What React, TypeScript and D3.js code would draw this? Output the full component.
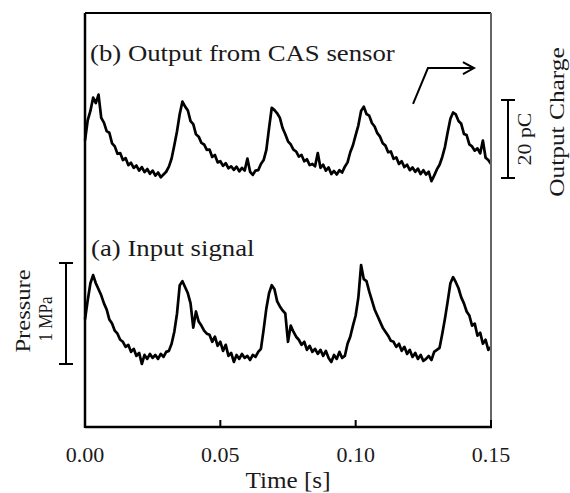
import * as d3 from "d3";

// sampling interval of both traces [s]
const sampleStep = 0.001;

// (b) output from CAS sensor [pC], one value per ms
const outputCharge = [
  9.6, 14.8, 17.2, 20.6, 19.2, 21.4, 15.4, 14.2, 12.0, 11.6,
  8.9, 8.1, 6.2, 6.4, 4.6, 5.1, 3.3, 3.9, 2.6, 3.2,
  1.9, 2.8, 1.5, 2.3, 1.1, 1.9, 0.6, 1.4, 0.2, 0.9,
  1.6, 2.9, 5.0, 8.4, 12.0, 16.4, 19.6, 18.3, 17.3, 14.6,
  13.8, 11.2, 10.6, 9.0, 8.6, 7.2, 7.3, 5.4, 5.9, 4.0,
  4.3, 3.1, 3.8, 2.5, 3.0, 2.1, 2.9, 1.7, 2.6, 1.9,
  5.0, 1.6, 0.8, 1.9, 2.0, 3.6, 4.6, 7.2, 12.8, 18.0,
  17.4, 16.6, 15.4, 12.8, 11.2, 9.4, 8.6, 7.3, 6.8, 5.5,
  5.9, 4.3, 4.8, 3.3, 3.6, 3.0, 6.4, 2.6, 3.4, 1.9,
  2.7, 1.0, 1.8, 0.9, 2.0, 1.4, 2.9, 4.0, 6.6, 8.4,
  11.0, 13.5, 17.2, 18.3, 16.4, 16.0, 14.1, 13.2, 11.5, 10.6,
  8.9, 8.3, 6.6, 6.8, 4.9, 5.3, 3.6, 4.3, 2.8, 3.4,
  2.0, 2.7, 1.6, 2.4, 1.0, 2.0, 0.9, 1.6, -0.8, 0.6,
  2.2, 3.4, 5.4, 8.0, 11.7, 15.2, 16.8, 16.3, 14.6, 13.9,
  11.3, 11.0, 8.6, 8.1, 7.0, 7.6, 6.3, 9.6, 5.2, 4.6,
  3.6,
];

// (a) input pressure signal [MPa], one value per ms
const inputPressure = [
  0.44, 0.63, 0.80, 0.88, 0.80, 0.74, 0.68, 0.60, 0.54, 0.44,
  0.40, 0.33, 0.30, 0.24, 0.22, 0.17, 0.19, 0.12, 0.15, 0.08,
  0.11, 0.00, 0.09, 0.05, 0.10, 0.06, 0.09, 0.05, 0.10, 0.07,
  0.12, 0.13, 0.20, 0.32, 0.50, 0.78, 0.82, 0.76, 0.70, 0.60,
  0.36, 0.52, 0.42, 0.38, 0.33, 0.30, 0.29, 0.22, 0.27, 0.18,
  0.22, 0.13, 0.19, 0.08, 0.11, 0.02, 0.09, 0.05, 0.10, 0.06,
  0.08, 0.04, 0.09, 0.07, 0.12, 0.15, 0.34, 0.55, 0.70, 0.78,
  0.74, 0.62, 0.57, 0.53, 0.50, 0.22, 0.38, 0.32, 0.27, 0.24,
  0.19, 0.22, 0.14, 0.18, 0.12, 0.15, 0.10, 0.14, 0.08, 0.13,
  0.06, 0.02, 0.09, 0.05, 0.12, 0.06, 0.08, 0.20, 0.27, 0.38,
  0.48, 0.66, 0.98, 0.84, 0.82, 0.72, 0.63, 0.54, 0.48, 0.42,
  0.36, 0.32, 0.28, 0.23, 0.22, 0.17, 0.20, 0.13, 0.17, 0.10,
  0.14, 0.07, 0.11, 0.05, 0.09, 0.03, 0.05, 0.08, 0.04, 0.12,
  0.14, 0.16, 0.30, 0.45, 0.62, 0.80, 0.86, 0.81, 0.75, 0.66,
  0.60, 0.52, 0.48, 0.38, 0.40, 0.28, 0.31, 0.20, 0.24, 0.14,
  0.17,
];

const timeTicks = [0, 0.05, 0.1, 0.15];
const chargeBar = [0, 20]; // pC
const pressureBar = [0, 1]; // MPa
// arrow pointing to the charge axis, in [s, pC]
const arrowPoints: [number, number][] = [
  [0.1212, 19.0],
  [0.1267, 28.2],
  [0.1437, 28.2],
];

const W = 570;
const H = 493;
const frame = { left: 85, right: 491, top: 13, bottom: 427 };
const font = "'Liberation Serif', 'Times New Roman', serif";
const ink = "#1a1a1a";

function SText({
  x,
  y,
  size,
  sx = 1,
  rotate = 0,
  anchor = "start",
  children,
}: {
  x: number;
  y: number;
  size: number;
  sx?: number;
  rotate?: number;
  anchor?: string;
  children: string;
}) {
  return (
    <text
      transform={`translate(${x},${y}) rotate(${rotate}) scale(${sx},1)`}
      fontSize={size}
      fontFamily={font}
      fill={ink}
      textAnchor={anchor}
    >
      {children}
    </text>
  );
}

export default function App() {
  const x = d3
    .scaleLinear()
    .domain([0, 0.15])
    .range([frame.left, frame.right]);
  const yB = d3.scaleLinear().domain([0, 20]).range([178, 100]);
  const yA = d3.scaleLinear().domain([0, 1]).range([364, 263]);

  const lineB = d3
    .line<number>()
    .x((_, i) => x(i * sampleStep))
    .y((d) => yB(d));
  const lineA = d3
    .line<number>()
    .x((_, i) => x(i * sampleStep))
    .y((d) => yA(d));

  const arrow = d3
    .line<[number, number]>()
    .x((d) => x(d[0]))
    .y((d) => yB(d[1]));
  const tip = arrowPoints[arrowPoints.length - 1];
  const tx = x(tip[0]);
  const ty = yB(tip[1]);

  const fmt = d3.format(".2f");
  const barR = frame.right + 17;
  const barL = frame.left - 19;

  return (
    <svg
      width={W}
      height={H}
      style={{ position: "absolute", left: 0, top: 0, background: "#fff" }}
    >
      {/* traces */}
      <path
        d={lineB(outputCharge) ?? ""}
        fill="none"
        stroke="#000"
        strokeWidth={2.7}
        strokeLinejoin="round"
      />
      <path
        d={lineA(inputPressure) ?? ""}
        fill="none"
        stroke="#000"
        strokeWidth={2.7}
        strokeLinejoin="round"
      />

      {/* frame */}
      <line x1={frame.left} x2={frame.right} y1={frame.top} y2={frame.top} stroke="#000" strokeWidth={2} />
      <line x1={frame.right} x2={frame.right} y1={frame.top} y2={frame.bottom} stroke="#666" strokeWidth={2} />
      <line x1={frame.left} x2={frame.left} y1={frame.top} y2={frame.bottom + 1} stroke="#000" strokeWidth={2.5} />
      <line x1={frame.left} x2={frame.right + 1} y1={frame.bottom} y2={frame.bottom} stroke="#000" strokeWidth={2.5} />

      {/* x ticks */}
      {timeTicks.map((t) => (
        <g key={t}>
          <line x1={x(t)} x2={x(t)} y1={frame.bottom} y2={frame.bottom - 7} stroke="#000" strokeWidth={2} />
          <SText x={x(t)} y={462} size={22} anchor="middle">
            {fmt(t)}
          </SText>
        </g>
      ))}
      <SText x={(frame.left + frame.right) / 2} y={488} size={22.5} sx={1.12} anchor="middle">
        Time [s]
      </SText>

      {/* panel labels */}
      <SText x={90} y={61} size={22.5} sx={1.19}>
        (b) Output from CAS sensor
      </SText>
      <SText x={91} y={256} size={22.5} sx={1.19}>
        (a) Input signal
      </SText>

      {/* arrow */}
      <path d={arrow(arrowPoints) ?? ""} fill="none" stroke="#000" strokeWidth={2} />
      <path
        d={`M${tx - 11},${ty - 6}L${tx},${ty}L${tx - 11},${ty + 6}`}
        fill="none"
        stroke="#000"
        strokeWidth={2}
      />

      {/* charge scale bar */}
      <g stroke="#000" strokeWidth={2}>
        <line x1={barR} x2={barR} y1={yB(chargeBar[0])} y2={yB(chargeBar[1])} />
        <line x1={barR - 7} x2={barR + 7} y1={yB(chargeBar[0])} y2={yB(chargeBar[0])} />
        <line x1={barR - 7} x2={barR + 7} y1={yB(chargeBar[1])} y2={yB(chargeBar[1])} />
      </g>
      <SText x={531} y={(yB(chargeBar[0]) + yB(chargeBar[1])) / 2} size={19} sx={1.15} rotate={-90} anchor="middle">
        20 pC
      </SText>
      <SText x={564} y={122} size={21.5} sx={1.18} rotate={-90} anchor="middle">
        Output Charge
      </SText>

      {/* pressure scale bar */}
      <g stroke="#000" strokeWidth={2}>
        <line x1={barL} x2={barL} y1={yA(pressureBar[0])} y2={yA(pressureBar[1])} />
        <line x1={barL - 7} x2={barL + 7} y1={yA(pressureBar[0])} y2={yA(pressureBar[0])} />
        <line x1={barL - 7} x2={barL + 7} y1={yA(pressureBar[1])} y2={yA(pressureBar[1])} />
      </g>
      <SText x={30} y={311} size={21} sx={1.17} rotate={-90} anchor="middle">
        Pressure
      </SText>
      <SText x={52} y={319} size={19} sx={0.9} rotate={-90} anchor="middle">
        1 MPa
      </SText>
    </svg>
  );
}
